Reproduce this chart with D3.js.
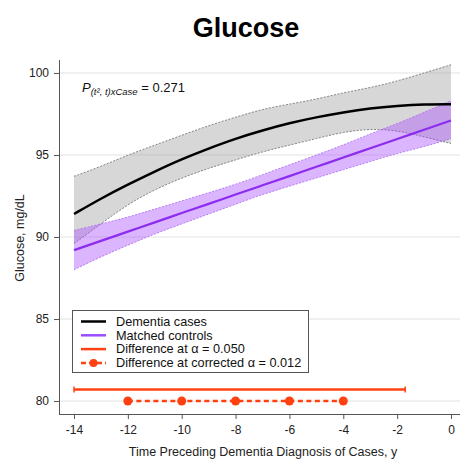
<!DOCTYPE html>
<html><head><meta charset="utf-8">
<script src="https://cdn.jsdelivr.net/npm/d3@7"></script>
<style>body{margin:0;background:#fff}svg{font-family:"Liberation Sans",Arial,sans-serif}</style>
</head><body><svg id="c" width="460" height="461"></svg>
<script>
const years = [-14,-13,-12,-11,-10,-9,-8,-7,-6,-5,-4,-3,-2,-1,0];
const casesMean  = [91.4,92.35,93.2,94.0,94.75,95.4,96.0,96.5,96.95,97.3,97.6,97.85,98.0,98.1,98.1];
const casesUpper = [93.7,94.3,95.0,95.6,96.2,96.8,97.3,97.8,98.1,98.4,98.8,99.1,99.5,100.0,100.5];
const casesLower = [89.6,90.8,92.0,92.9,93.6,94.2,94.7,95.2,95.6,96.0,96.4,96.6,96.5,96.1,95.7];
const ctrlMean   = [89.2,89.76,90.33,90.89,91.46,92.02,92.59,93.15,93.71,94.28,94.84,95.41,95.97,96.54,97.1];
const ctrlUpper  = [90.4,90.8,91.2,91.7,92.2,92.7,93.2,93.8,94.4,95.0,95.6,96.3,96.9,97.6,98.3];
const ctrlLower  = [88.0,88.8,89.5,90.2,90.8,91.4,92.0,92.6,93.1,93.6,94.1,94.6,95.1,95.5,96.0];
const diff050 = [-14,-1.7];      const diff050Y = 80.7;
const diff012 = [-12,-10,-8,-6,-4]; const diff012Y = 80;
const xTicks = [-14,-12,-10,-8,-6,-4,-2,0];
const yTicks = [80,85,90,95,100];
const legendLabels = ["Dementia cases","Matched controls","Difference at \u03b1 = 0.050","Difference at corrected \u03b1 = 0.012"];

const svg = d3.select("#c");
const x = d3.scaleLinear().domain([-14.557,0.334]).range([59,460]);
const y = d3.scaleLinear().domain([79.21,100.79]).range([414,60]);

svg.append("g").selectAll("line").data(yTicks).join("line")
  .attr("x1",60).attr("x2",460).attr("y1",d=>y(d)).attr("y2",d=>y(d))
  .attr("stroke","#e3e3e3").attr("stroke-width",1);

svg.append("text").attr("x",246).attr("y",37).attr("text-anchor","middle")
  .attr("font-size",27).attr("font-weight","bold").attr("fill","#000").text("Glucose");

const idx = d3.range(years.length);
const crv = d3.curveBasis;
const area = (lo,hi)=>d3.area().x(i=>x(years[i])).y0(i=>y(lo[i])).y1(i=>y(hi[i])).curve(crv);
const line = (v)=>d3.line().x(i=>x(years[i])).y(i=>y(v[i])).curve(crv);

svg.append("path").attr("d",area(casesLower,casesUpper)(idx)).attr("fill","rgba(160,160,160,0.42)");
[casesUpper,casesLower].forEach(v=>svg.append("path").attr("d",line(v)(idx)).attr("fill","none")
  .attr("stroke","#777").attr("stroke-width",0.9).attr("stroke-dasharray","2,1.5"));
svg.append("path").attr("d",area(ctrlLower,ctrlUpper)(idx)).attr("fill","rgba(170,80,255,0.42)");
[ctrlUpper,ctrlLower].forEach(v=>svg.append("path").attr("d",line(v)(idx)).attr("fill","none")
  .attr("stroke","#b070f0").attr("stroke-width",0.9).attr("stroke-dasharray","2,1.5"));
svg.append("path").attr("d",line(casesMean)(idx)).attr("fill","none").attr("stroke","#000").attr("stroke-width",2.5);
svg.append("path").attr("d",line(ctrlMean)(idx)).attr("fill","none").attr("stroke","#8c2cf0").attr("stroke-width",2.2);

const red = "#ff4010";
svg.append("line").attr("x1",x(diff050[0])).attr("x2",x(diff050[1])).attr("y1",y(diff050Y)).attr("y2",y(diff050Y))
  .attr("stroke",red).attr("stroke-width",2.5);
diff050.forEach(d=>svg.append("line").attr("x1",x(d)).attr("x2",x(d)).attr("y1",y(diff050Y)-3).attr("y2",y(diff050Y)+3)
  .attr("stroke",red).attr("stroke-width",1.5));
svg.append("line").attr("x1",x(d3.min(diff012))).attr("x2",x(d3.max(diff012))).attr("y1",y(diff012Y)).attr("y2",y(diff012Y))
  .attr("stroke",red).attr("stroke-width",2.5).attr("stroke-dasharray","5,3.5");
svg.append("g").selectAll("circle").data(diff012).join("circle")
  .attr("cx",d=>x(d)).attr("cy",y(diff012Y)).attr("r",4.5).attr("fill",red);

const ax = svg.append("g").attr("transform","translate(0,414)")
  .call(d3.axisBottom(x).tickValues(xTicks).tickSize(5).tickPadding(6).tickFormat(d=>d===0?"0":d3.format("d")(d).replace("\u2212","-")));
ax.select(".domain").attr("d","M59,0.5H460").attr("stroke","#555");
const ay = svg.append("g").attr("transform","translate(59,0)")
  .call(d3.axisLeft(y).tickValues(yTicks).tickSize(5).tickPadding(5));
ay.select(".domain").attr("d","M0.5,60V414").attr("stroke","#555");
[ax,ay].forEach(a=>{a.selectAll(".tick line").attr("stroke","#555");
  a.selectAll("text").attr("font-size",12).attr("fill","#222").attr("font-family","Liberation Sans,Arial,sans-serif");});

svg.append("text").attr("x",263).attr("y",456).attr("text-anchor","middle").attr("font-size",12.5).attr("fill","#222")
  .text("Time Preceding Dementia Diagnosis of Cases, y");
svg.append("text").attr("transform","translate(24,238) rotate(-90)").attr("text-anchor","middle").attr("font-size",12.5).attr("fill","#222")
  .text("Glucose, mg/dL");

const ann = svg.append("text").attr("x",82).attr("y",92).attr("fill","#111");
ann.append("tspan").attr("font-style","italic").attr("font-size",13).text("P");
ann.append("tspan").attr("font-style","italic").attr("font-size",9.5).attr("dy",3).text("(t\u00b2, t)xCase");
ann.append("tspan").attr("font-size",13).attr("dy",-3).text(" = 0.271");

const lg = svg.append("g");
lg.append("rect").attr("x",72.5).attr("y",310.5).attr("width",236).attr("height",62).attr("fill","#fff").attr("stroke","#555");
const legStyles = [
  {c:"#000",w:2.5,dash:null,dot:false},
  {c:"#9b4dff",w:2.5,dash:null,dot:false},
  {c:red,w:2.5,dash:null,dot:false},
  {c:red,w:2.5,dash:"5,3",dot:true}];
legendLabels.forEach((t,i)=>{
  const yy = 321.5 + i*13.8;
  const s = legStyles[i];
  lg.append("line").attr("x1",81).attr("x2",106).attr("y1",yy).attr("y2",yy).attr("stroke",s.c).attr("stroke-width",s.w)
    .attr("stroke-dasharray",s.dash);
  if(s.dot) lg.append("circle").attr("cx",93.5).attr("cy",yy).attr("r",4).attr("fill",s.c);
  lg.append("text").attr("x",116).attr("y",yy+4.3).attr("font-size",12.7).attr("fill","#111").text(t);
});
</script></body></html>
